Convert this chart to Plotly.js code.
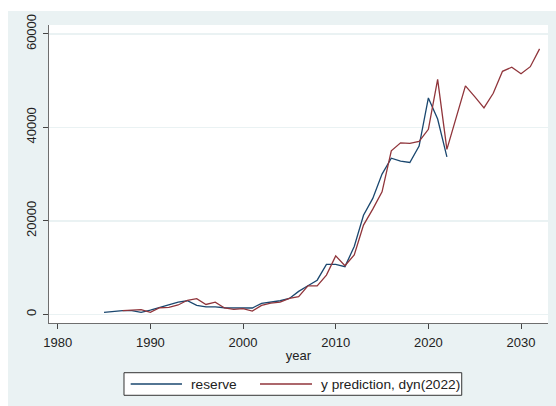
<!DOCTYPE html>
<html>
<head>
<meta charset="utf-8">
<script src="https://cdn.plot.ly/plotly-3.0.1.min.js"></script>
<style>
  html, body { margin: 0; padding: 0; background: #ffffff; }
  #chart { position: absolute; left: 8px; top: 11px; width: 548px; height: 395px; }
</style>
</head>
<body>
<div id="chart"></div>
<script>
// Observed reserve, 1985-2022
const reserveYears = [1985,1986,1987,1988,1989,1990,1991,1992,1993,1994,1995,1996,1997,1998,1999,
  2000,2001,2002,2003,2004,2005,2006,2007,2008,2009,2010,2011,2012,2013,2014,2015,2016,2017,2018,
  2019,2020,2021,2022];
const reserveValues = [420,640,780,780,420,900,1500,2100,2600,2900,1900,1600,1600,1400,1400,
  1300,1350,2350,2600,2900,3400,4900,6100,7300,10700,10700,10200,14500,21200,24800,30000,33400,
  32800,32500,36000,46300,41800,33700];

// Dynamic prediction starting 2022, out to 2032
const predYears = [1987,1988,1989,1990,1991,1992,1993,1994,1995,1996,1997,1998,1999,2000,2001,
  2002,2003,2004,2005,2006,2007,2008,2009,2010,2011,2012,2013,2014,2015,2016,2017,2018,2019,2020,
  2021,2022,2023,2024,2025,2026,2027,2028,2029,2030,2031,2032];
const predValues = [780,920,1000,420,1400,1500,2000,3000,3350,2100,2600,1350,1050,1200,700,
  1900,2400,2600,3400,3800,6100,6100,8400,12500,10400,12700,19100,22500,26200,35000,36700,36600,
  37000,39600,50300,35300,42300,48900,46600,44200,47300,52000,52900,51500,53000,56800];

const xTicks = [1980, 1990, 2000, 2010, 2020, 2030];
const yTicks = [0, 20000, 40000, 60000];
const seriesNames = ['reserve', 'y prediction, dyn(2022)'];

const FONT = 'Liberation Sans, Arial, sans-serif';
const BLUE = '#1a476f';
const RED = '#90353b';
const TEXT = '#222222';

const traces = [
  { x: reserveYears, y: reserveValues, name: seriesNames[0], type: 'scatter', mode: 'lines',
    line: { color: BLUE, width: 1.3 } },
  { x: predYears, y: predValues, name: seriesNames[1], type: 'scatter', mode: 'lines',
    line: { color: RED, width: 1.3 } }
];

// Boxed key below the axis title, laid out in paper units of the plot area
const keyBox = { x0: 0.1503, x1: 0.8271, y0: -0.2426, y1: -0.1668 };
const keyRowY = -0.2047;
const keyEntries = [
  { lineX: [0.1637, 0.2665], textX: 0.2800 },
  { lineX: [0.4228, 0.5271], textX: 0.5410 }
];

const shapes = [
  { type: 'rect', xref: 'paper', yref: 'paper', ...keyBox,
    line: { color: '#333333', width: 1 }, fillcolor: '#ffffff', layer: 'above' }
];
const annotations = [];
keyEntries.forEach((entry, i) => {
  shapes.push({ type: 'line', xref: 'paper', yref: 'paper',
    x0: entry.lineX[0], x1: entry.lineX[1], y0: keyRowY, y1: keyRowY,
    line: { color: traces[i].line.color, width: 1.3 }, layer: 'above' });
  annotations.push({ xref: 'paper', yref: 'paper', x: entry.textX, y: keyRowY,
    xanchor: 'left', yanchor: 'middle', showarrow: false, text: traces[i].name,
    font: { family: FONT, size: 13.7, color: TEXT } });
});

const layout = {
  width: 548, height: 395,
  margin: { l: 41, r: 8, t: 14, b: 83, pad: 0, autoexpand: false },
  paper_bgcolor: '#eaf2f3',
  plot_bgcolor: '#ffffff',
  font: { family: FONT, size: 13, color: TEXT },
  showlegend: false,
  shapes: shapes,
  annotations: annotations,
  xaxis: {
    range: [1979.06, 2032.91], tickvals: xTicks, ticktext: xTicks.map(String),
    automargin: false,
    showgrid: false, zeroline: false, showline: true, linecolor: '#6e6e6e', linewidth: 1.3,
    ticks: 'outside', ticklen: 5, tickcolor: '#444444', tickwidth: 1,
    ticklabelstandoff: 2,
    tickfont: { family: FONT, size: 13, color: TEXT },
    title: { text: 'year', font: { family: FONT, size: 13, color: TEXT }, standoff: 2 }
  },
  yaxis: {
    range: [-1862, 61920], tickvals: yTicks, ticktext: yTicks.map(String),
    automargin: false,
    showgrid: true, gridcolor: '#eaf2f3', gridwidth: 1.5, zeroline: false,
    showline: true, linecolor: '#6e6e6e', linewidth: 1.3,
    ticks: 'outside', ticklen: 5, tickcolor: '#444444', tickwidth: 1,
    tickangle: -90, ticklabelstandoff: 2,
    tickfont: { family: FONT, size: 13, color: TEXT }
  }
};

Plotly.newPlot('chart', traces, layout, { displayModeBar: false, staticPlot: true });
</script>
</body>
</html>
